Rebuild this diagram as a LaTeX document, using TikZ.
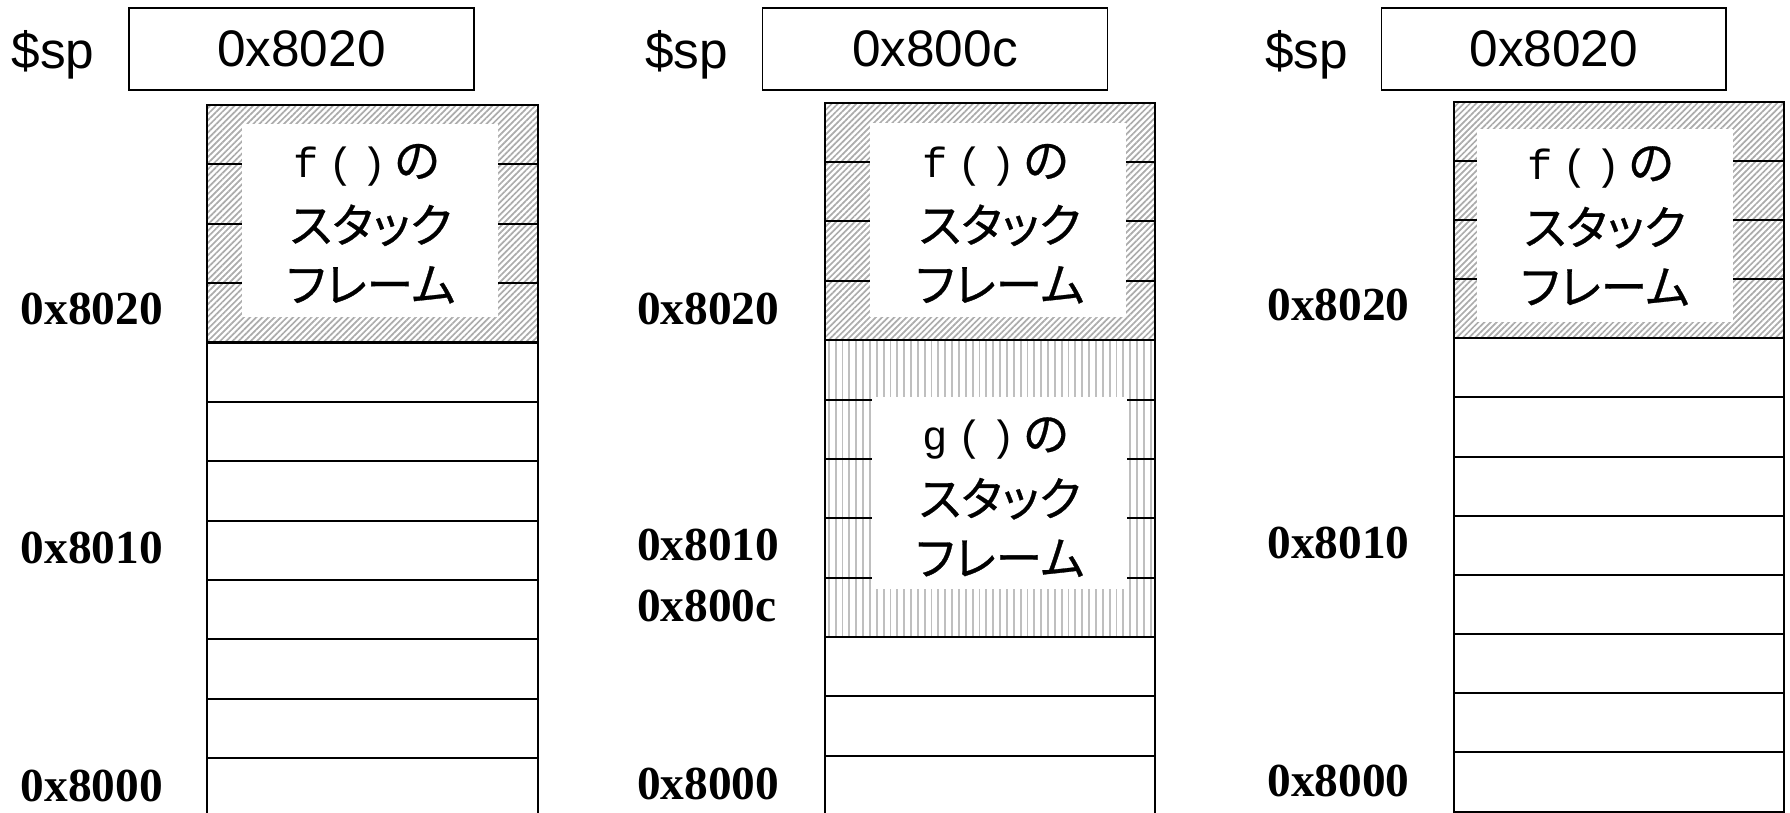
\documentclass[tikz,border=0pt]{standalone}
\usepackage{fontspec}
\setmainfont{Liberation Sans}
\newfontfamily\addrfont{Liberation Serif}
\newfontfamily\jpfont{Noto Sans CJK JP}[RawFeature=+palt, FakeBold=0.6]
\newfontfamily\monofont{Liberation Mono}
\usetikzlibrary{patterns.meta}
\newcommand\fnline[1]{{\fontsize{37}{51}\monofont #1}\kern9pt{\fontsize{37}{51}\monofont(}\kern6pt{\fontsize{37}{51}\monofont)}\kern7pt の\kern8pt}
\newcommand\frametext[1]{\fnline{#1}\\[5pt]スタック\\フレーム}
\tikzset{
  regbox/.style={draw, line width=1.3pt, minimum width=302pt, minimum height=72pt, inner sep=0pt, font=\fontsize{45}{50}\selectfont},
  splabel/.style={anchor=base west, inner sep=0pt, font=\fontsize{45}{50}\selectfont},
  addr/.style={anchor=base west, inner sep=0pt, font=\addrfont\bfseries\fontsize{41.5}{45}\selectfont},
  whitebox/.style={fill=white, inner sep=0pt},
  ftext/.style={inner sep=0pt, align=center, font=\jpfont\fontsize{41}{52}\selectfont},
  rowline/.style={line width=1.8pt},
  stackedge/.style={line width=1.8pt},
  hatchf/.style={pattern={Lines[angle=45,distance=3.8pt,line width=1.5pt]}, pattern color=gray!65},
  hatchg/.style={pattern={Lines[angle=90,distance=6pt,line width=1.6pt]}, pattern color=gray!50},
}
\begin{document}
\begin{tikzpicture}[x=1pt,y=-1pt]
\useasboundingbox (0,0) rectangle (1568,712);
\clip (0,0) rectangle (1568,712);

% ---------- panel 1 ----------
\node[splabel] (sp1) at (10,60) {\$sp};
\node[regbox] (reg1) at (264,43) {0x8020};
\fill[hatchf] (181,92) rectangle (471,300);
\foreach \k in {1,...,11} \draw[rowline] (181,{92+52*\k}) -- (471,{92+52*\k});
\node[whitebox, minimum width=224pt, minimum height=169pt] (f1) at (324,193.5) {};
\node[ftext] (f1t) at (325,196) {\frametext{f}};
\draw[stackedge] (181,92) rectangle (471,716);
\node[addr] (a1a) at (18,284) {0x8020};
\node[addr] (a1b) at (18,494) {0x8010};
\node[addr] (a1c) at (18,702) {0x8000};

% ---------- panel 2 ----------
\node[splabel] (sp2) at (565,60) {\$sp};
\node[regbox] (reg2) at (819,43) {0x800c};
\fill[hatchf] (723,90) rectangle (1012,298);
\fill[hatchg] (723,298) rectangle (1012,558);
\foreach \k in {1,...,11} \draw[rowline] (723,{90+52*\k}) -- (1012,{90+52*\k});
\node[whitebox, minimum width=224pt, minimum height=170pt] (f2) at (874,193) {};
\node[ftext] (f2t) at (876,196) {\frametext{f}};
\node[whitebox, minimum width=223pt, minimum height=168pt] (g2) at (875.5,432) {};
\node[ftext] (g2t) at (876,435.5) {\frametext{g}};
\draw[stackedge] (723,90) rectangle (1012,714);
\node[addr] (a2a) at (558,284) {0x8020};
\node[addr] (a2b) at (558,491) {0x8010};
\node[addr] (a2c) at (558,544) {0x800c};
\node[addr] (a2d) at (558,700) {0x8000};

% ---------- panel 3 ----------
\node[splabel] (sp3) at (1108,60) {\$sp};
\node[regbox] (reg3) at (1361,43) {0x8020};
\fill[hatchf] (1274,89) rectangle (1563,296.3);
\foreach \k in {1,...,11} \draw[rowline] (1274,{89+51.83*\k}) -- (1563,{89+51.83*\k});
\node[whitebox, minimum width=224pt, minimum height=169pt] (f3) at (1406,197.5) {};
\node[ftext] (f3t) at (1406,198) {\frametext{f}};
\draw[stackedge] (1274,89) rectangle (1563,710.9);
\node[addr] (a3a) at (1110,281) {0x8020};
\node[addr] (a3b) at (1110,489) {0x8010};
\node[addr] (a3c) at (1110,698) {0x8000};
\end{tikzpicture}
\end{document}
